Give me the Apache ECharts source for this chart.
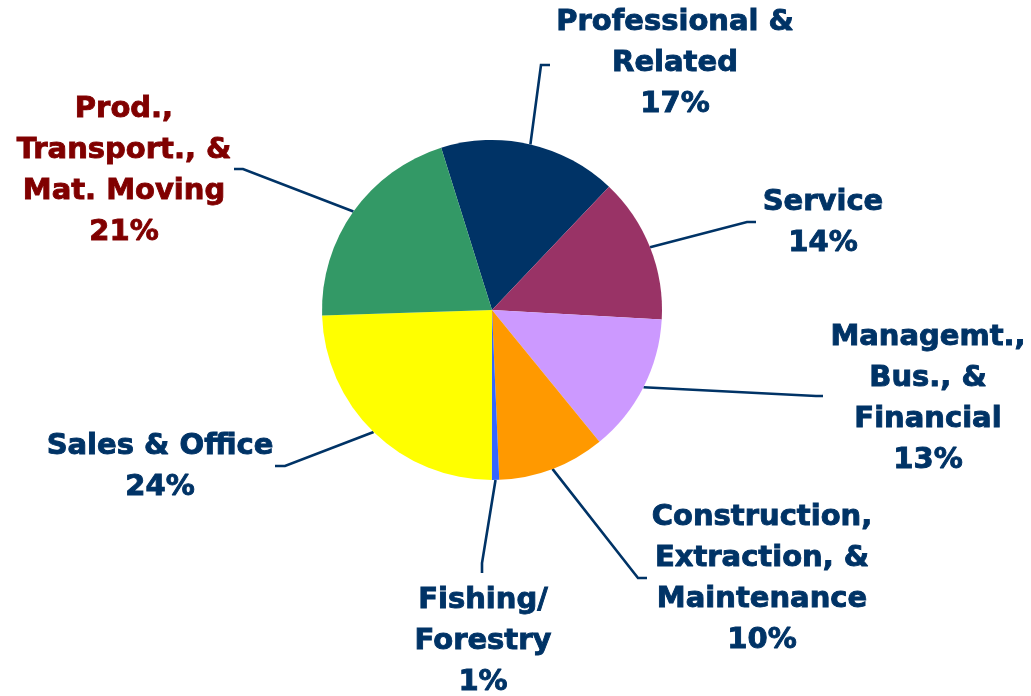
<!DOCTYPE html>
<html>
<head>
<meta charset="utf-8">
<script src="https://cdn.jsdelivr.net/npm/echarts@6/dist/echarts.min.js"></script>
<style>
  html, body { margin: 0; padding: 0; background: #ffffff; }
  #chart { width: 1031px; height: 696px; }
</style>
</head>
<body>
<div id="chart"></div>
<script>
// ---- Data ----
const categories = [
  'Professional &\nRelated',
  'Service',
  'Managemt.,\nBus., &\nFinancial',
  'Construction,\nExtraction, &\nMaintenance',
  'Fishing/\nForestry',
  'Sales & Office',
  'Prod.,\nTransport., &\nMat. Moving'
];
const shares = [16.9, 13.8, 13.2, 10.2, 0.7, 24.45, 20.65];

// ---- Styles / layout (not data) ----
const sliceColors = ['#003366', '#993366', '#CC99FF', '#FF9900', '#3366FF', '#FFFF00', '#339966'];
const textColors  = ['#003366', '#003366', '#003366', '#003366', '#003366', '#003366', '#800000'];
// label block centre and leader-line bend/end points (annotation layout)
const labelPos = [
  { x: 675, y: 63,  bend: [541, 65],  end: [550, 65] },
  { x: 823, y: 223, bend: [747, 222], end: [756, 222] },
  { x: 928, y: 399, bend: [816, 396], end: [823, 396] },
  { x: 762, y: 579, bend: [638, 578], end: [647, 578] },
  { x: 483, y: 641, bend: [482, 563], end: [482, 573] },
  { x: 160, y: 467, bend: [285, 466], end: [275, 466] },
  { x: 124, y: 171, bend: [243, 169], end: [234, 169] }
];

const chart = echarts.init(document.getElementById('chart'), null, { renderer: 'canvas' });

const lineStyle = { color: '#003366', width: 2.6 };

const seriesData = categories.map((name, i) => ({
  name: name,
  value: shares[i],
  itemStyle: { color: sliceColors[i] },
  label: { color: textColors[i], textBorderColor: textColors[i], textBorderWidth: 0.9 },
  labelLine: { show: true, lineStyle: lineStyle }
}));

chart.setOption({
  backgroundColor: '#ffffff',
  animation: false,
  series: [{
    type: 'pie',
    center: [492, 310],
    radius: 170,
    startAngle: 107.4,
    clockwise: true,
    avoidLabelOverlap: false,
    data: seriesData,
    itemStyle: { borderWidth: 0 },
    label: {
      show: true,
      position: 'outside',
      formatter: p => p.name + '\n' + Math.round(p.percent) + '%',
      fontFamily: '"DejaVu Sans", Verdana, sans-serif',
      fontWeight: 'bold',
      fontSize: 29,
      lineHeight: 41,
      align: 'center',
      overflow: 'none',
      edgeDistance: 0,
      bleedMargin: 0
    },
    labelLine: {
      show: true,
      length: 10,
      length2: 10,
      smooth: false,
      lineStyle: lineStyle
    },
    emphasis: { disabled: true },
    labelLayout: function (params) {
      const lp = labelPos[params.dataIndex];
      const start = params.labelLinePoints ? params.labelLinePoints[0] : lp.bend;
      return {
        x: lp.x,
        y: lp.y,
        align: 'center',
        verticalAlign: 'middle',
        labelLinePoints: [start, lp.bend, lp.end]
      };
    }
  }]
});
</script>
</body>
</html>
